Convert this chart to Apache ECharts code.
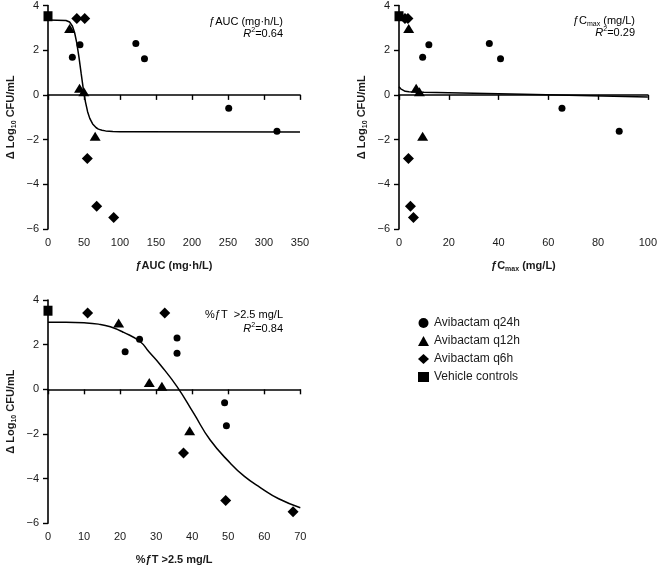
<!DOCTYPE html>
<html>
<head>
<meta charset="utf-8">
<script src="https://cdn.jsdelivr.net/npm/echarts@6/dist/echarts.min.js"></script>
<style>
html,body{margin:0;padding:0;background:#fff;}
#chart{width:660px;height:567px;}
</style>
</head>
<body>
<div id="chart"></div>
<script>
// ---- Data ----
const q24hResp = [1.68, 2.24, 2.30, 1.62, -0.60, -1.63];
const q24hAUC  = [33.8, 44.4, 122, 134, 251, 318];
const q24hCmax = [9.5, 12.0, 36.3, 40.8, 65.5, 88.5];
const q24hFT   = [21.4, 25.4, 35.8, 35.8, 49.0, 49.5];

const q12hResp = [2.97, 0.30, 0.14, -1.85];
const q12hAUC  = [30, 43.8, 49.8, 65.5];
const q12hCmax = [3.9, 6.9, 8.2, 9.5];
const q12hFT   = [19.6, 28.1, 31.6, 39.3];

const q6hResp = [3.42, 3.42, -2.85, -4.98, -5.48];
const q6hAUC  = [40, 51, 54.6, 67.6, 91.2];
const q6hCmax = [2.4, 3.6, 3.8, 4.6, 5.8];
const q6hFT   = [11, 32.4, 37.6, 49.3, 68];

const vehResp = [3.52];
const vehAUC  = [0];
const vehCmax = [0];
const vehFT   = [0];

// fitted curves, points
const aucFitX = [0, 25, 30, 34, 37, 40, 43, 46, 49, 52, 55, 58, 62, 67, 70, 75, 80, 90, 100, 120, 350];
const aucFitY = [3.35, 3.33, 3.26, 3.07, 2.78, 2.32, 1.69, 0.97, 0.27, -0.31, -0.75, -1.05, -1.30, -1.47, -1.53, -1.58, -1.61, -1.64, -1.65, -1.65, -1.66];
const cmaxFitX = [0, 0.7, 1.5, 2.5, 4, 10, 50, 100];
const cmaxFitY = [0.36, 0.27, 0.2, 0.16, 0.14, 0.12, 0.03, -0.09];
const ftFitX = [0, 5, 10, 14, 17.3, 21, 25.6, 28, 31.2, 35.8, 40.4, 45, 50.6, 54.5, 58.9, 64, 70];
const ftFitY = [3.0, 3.0, 2.98, 2.92, 2.8, 2.55, 2.13, 1.68, 1.09, 0.12, -1.07, -2.27, -3.31, -3.9, -4.4, -4.9, -5.3];

const yTicks = {min: -6, max: 4, interval: 2};
const xTicksAUC = {min: 0, max: 350, interval: 50};
const xTicksCmax = {min: 0, max: 100, interval: 20};
const xTicksFT = {min: 0, max: 70, interval: 10};

const names = ['Avibactam q24h', 'Avibactam q12h', 'Avibactam q6h', 'Vehicle controls'];

// ---- Helpers ----
const zip = (xs, ys) => xs.map((x, i) => [x, ys[i]]);
const FONT = "'Liberation Sans', Arial, Helvetica, sans-serif";
const TXT = '#1a1a1a';

const axisLine = {show: true, lineStyle: {color: '#000', width: 1.6}};
const axisTick = {show: true, inside: false, length: 5, lineStyle: {color: '#000', width: 1.4}};
const minus = v => String(v).replace('-', '\u2212');

function xAxis(idx, t, nameRich) {
  return {
    type: 'value', gridIndex: idx, min: t.min, max: t.max, interval: t.interval,
    axisLine, axisTick, splitLine: {show: false},
    axisLabel: {fontSize: 11, color: TXT, fontFamily: FONT, margin: 8, formatter: minus},
    name: nameRich, nameLocation: 'middle', nameGap: 30,
    nameTextStyle: {
      fontFamily: FONT, color: TXT, fontSize: 11, fontWeight: 'bold',
      rich: {
        b: {fontFamily: FONT, fontSize: 11, fontWeight: 'bold', color: TXT, lineHeight: 14},
        s: {fontFamily: FONT, fontSize: 7, fontWeight: 'bold', color: TXT, lineHeight: 8, verticalAlign: 'bottom'}
      }
    }
  };
}
function yAxis(idx) {
  return {
    type: 'value', gridIndex: idx, min: yTicks.min, max: yTicks.max, interval: yTicks.interval,
    axisLine, axisTick, splitLine: {show: false},
    axisLabel: {fontSize: 11, color: TXT, fontFamily: FONT, margin: 9, formatter: minus},
    name: '{b|\u0394 Log}{s|10}{b| CFU/mL}', nameLocation: 'middle', nameGap: 30,
    nameTextStyle: {
      fontFamily: FONT, color: TXT, fontSize: 11, fontWeight: 'bold',
      rich: {
        b: {fontFamily: FONT, fontSize: 11, fontWeight: 'bold', color: TXT, lineHeight: 14},
        s: {fontFamily: FONT, fontSize: 7, fontWeight: 'bold', color: TXT, lineHeight: 8, verticalAlign: 'bottom'}
      }
    }
  };
}

const markers = [
  {name: names[0], symbol: 'circle', size: 7},
  {name: names[1], symbol: 'triangle', size: [11, 9]},
  {name: names[2], symbol: 'diamond', size: [11, 11]},
  {name: names[3], symbol: 'rect', size: [9, 10]}
];

const panels = [
  {xs: [q24hAUC, q12hAUC, q6hAUC, vehAUC], fit: [aucFitX, aucFitY], smooth: false},
  {xs: [q24hCmax, q12hCmax, q6hCmax, vehCmax], fit: [cmaxFitX, cmaxFitY], smooth: false},
  {xs: [q24hFT, q12hFT, q6hFT, vehFT], fit: [ftFitX, ftFitY], smooth: 0.5}
];
const resps = [q24hResp, q12hResp, q6hResp, vehResp];

const series = [];
panels.forEach((p, gi) => {
  series.push({
    type: 'line', xAxisIndex: gi, yAxisIndex: gi, data: zip(p.fit[0], p.fit[1]),
    showSymbol: false, symbol: 'none', smooth: p.smooth,
    lineStyle: {color: '#000', width: 1.5}, z: 2, silent: true
  });
  markers.forEach((m, k) => {
    series.push({
      type: 'scatter', name: m.name, xAxisIndex: gi, yAxisIndex: gi,
      data: zip(p.xs[k], resps[k]), symbol: m.symbol, symbolSize: m.size,
      itemStyle: {color: '#000', opacity: 1}, z: 3
    });
  });
});

const annRich = {
  t: {fontFamily: FONT, fontSize: 11, color: TXT, lineHeight: 14},
  f: {fontFamily: FONT, fontSize: 11, color: TXT, lineHeight: 14},
  s: {fontFamily: FONT, fontSize: 7, color: TXT, lineHeight: 8, verticalAlign: 'bottom'},
  r: {fontFamily: FONT, fontSize: 11, color: TXT, fontStyle: 'italic', lineHeight: 14},
  p: {fontFamily: FONT, fontSize: 7, color: TXT, lineHeight: 8, verticalAlign: 'top'}
};
function ann(x, y, text) {
  return {type: 'text', x, y, z: 10, silent: true,
    style: {text, rich: annRich, align: 'right', verticalAlign: 'middle', textAlign: 'right', textVerticalAlign: 'middle'}};
}

const option = {
  animation: false,
  backgroundColor: '#fff',
  textStyle: {fontFamily: FONT},
  grid: [
    {left: 48, top: 4, width: 252, height: 225},
    {left: 399, top: 4, width: 252.5, height: 225},
    {left: 48, top: 300, width: 252.3, height: 223.3}
  ],
  xAxis: [
    xAxis(0, xTicksAUC, '{b|\u0192AUC (mg\u00b7h/L)}'),
    xAxis(1, xTicksCmax, '{b|\u0192C}{s|max}{b| (mg/L)}'),
    xAxis(2, xTicksFT, '{b|%\u0192T >2.5 mg/L}')
  ],
  yAxis: [yAxis(0), yAxis(1), yAxis(2)],
  legend: {
    orient: 'vertical', left: 413, top: 311, itemGap: 4, itemWidth: 11, itemHeight: 10,
    textStyle: {fontFamily: FONT, fontSize: 12, color: TXT, lineHeight: 14},
    data: [
      {name: names[0], icon: 'circle'},
      {name: names[1], icon: 'triangle'},
      {name: names[2], icon: 'diamond'},
      {name: names[3], icon: 'rect'}
    ],
    selectedMode: false
  },
  graphic: [
    ann(283, 22, '{f|\u0192AUC (mg\u00b7h/L)}'),
    ann(283, 34, '{r|R}{p|2}{t|=0.64}'),
    ann(635, 21, '{f|\u0192C}{s|max}{t| (mg/L)}'),
    ann(635, 33, '{r|R}{p|2}{t|=0.29}'),
    ann(283, 315, '{t|%\u0192T  >2.5 mg/L}'),
    ann(283, 329, '{r|R}{p|2}{t|=0.84}')
  ],
  series
};

const chart = echarts.init(document.getElementById('chart'), null, {renderer: 'canvas'});
chart.setOption(option);
</script>
</body>
</html>
